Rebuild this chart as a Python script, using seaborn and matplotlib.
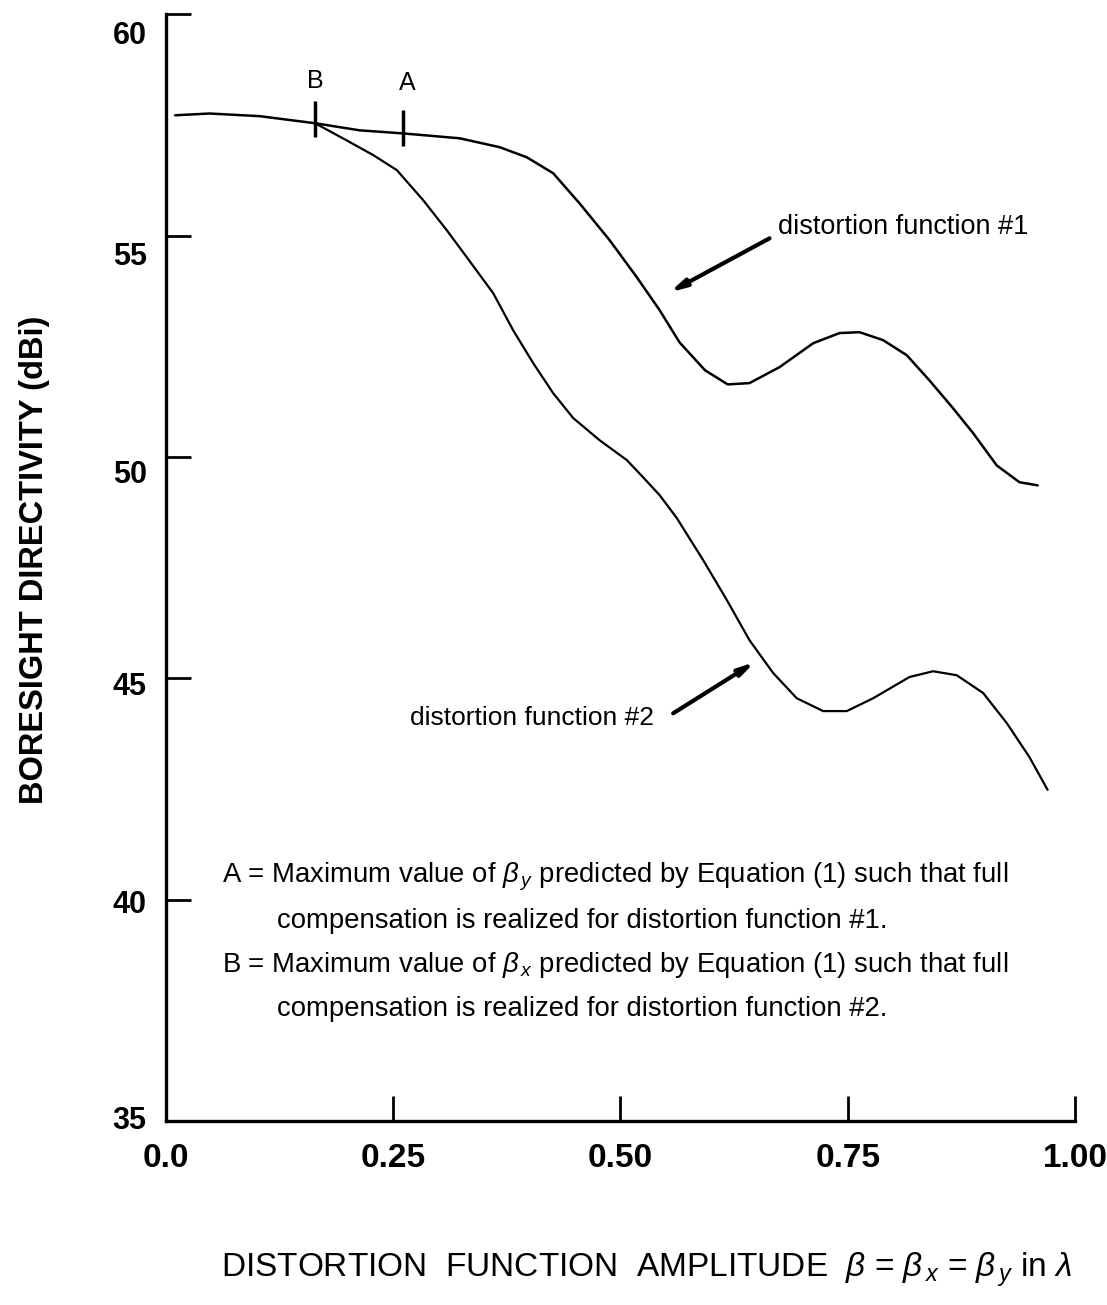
import matplotlib
matplotlib.use("Agg")
import matplotlib.pyplot as plt
import matplotlib.transforms as mtransforms
import seaborn as sns
import pandas as pd

# curve values (beta in wavelengths, directivity in dBi)
beta_1 = [0.010, 0.048, 0.103, 0.164, 0.213, 0.261, 0.323, 0.367, 0.397, 0.426,
          0.455, 0.488, 0.518, 0.543, 0.565, 0.593, 0.618, 0.642, 0.675, 0.712,
          0.741, 0.763, 0.789, 0.815, 0.840, 0.866, 0.888, 0.914, 0.939, 0.959]
dir_1 = [57.72, 57.76, 57.70, 57.54, 57.38, 57.31, 57.20, 57.00, 56.77, 56.41,
         55.73, 54.90, 54.06, 53.32, 52.59, 51.96, 51.64, 51.67, 52.03, 52.57,
         52.80, 52.82, 52.64, 52.30, 51.73, 51.10, 50.54, 49.81, 49.43, 49.36]

beta_2 = [0.164, 0.199, 0.228, 0.254, 0.283, 0.309, 0.331, 0.360, 0.382, 0.404,
          0.426, 0.448, 0.477, 0.507, 0.525, 0.543, 0.562, 0.591, 0.617, 0.642,
          0.668, 0.694, 0.723, 0.749, 0.778, 0.818, 0.844, 0.870, 0.899, 0.925,
          0.950, 0.970]
dir_2 = [57.54, 57.15, 56.82, 56.48, 55.80, 55.12, 54.51, 53.70, 52.86, 52.12,
         51.44, 50.88, 50.38, 49.93, 49.54, 49.14, 48.62, 47.67, 46.77, 45.86,
         45.12, 44.55, 44.26, 44.26, 44.55, 45.03, 45.16, 45.07, 44.67, 43.99,
         43.22, 42.48]

# A / B markers
mark_names = ["B", "A"]
mark_beta = [0.164, 0.261]
mark_dir = [57.63, 57.43]
name_beta = [0.164, 0.265]
name_dir = [58.50, 58.44]

x_ticks = [0.0, 0.25, 0.50, 0.75, 1.00]
x_ticklabels = ["0.0", "0.25", "0.50", "0.75", "1.00"]
y_ticks = [35, 40, 45, 50, 55, 60]

sns.set_style("ticks")
plt.rcParams["font.family"] = ["Liberation Sans", "DejaVu Sans"]
plt.rcParams["mathtext.fontset"] = "custom"
plt.rcParams["mathtext.rm"] = "Liberation Sans"
plt.rcParams["mathtext.it"] = "Liberation Sans:italic"
for key in ["text.color", "axes.labelcolor", "xtick.color", "ytick.color", "axes.edgecolor"]:
    plt.rcParams[key] = "black"

fig = plt.figure(figsize=(11.07, 13.05), dpi=100)
ax = fig.add_axes([0.150, 0.141, 0.821, 0.848])

df1 = pd.DataFrame({"beta": beta_1, "D": dir_1})
df2 = pd.DataFrame({"beta": beta_2, "D": dir_2})
sns.lineplot(data=df1, x="beta", y="D", color="black", lw=1.8, estimator=None, sort=False, ax=ax)
sns.lineplot(data=df2, x="beta", y="D", color="black", lw=1.6, estimator=None, sort=False, ax=ax)

ax.plot(mark_beta, mark_dir, linestyle="none", marker="|", markersize=26,
        markeredgewidth=2.5, color="black")
for name, bx, by in zip(mark_names, name_beta, name_dir):
    ax.text(bx, by, name, ha="center", va="center", fontsize=18)

ax.set_xlim(0, 1.0)
ax.set_ylim(35, 60)
ax.set_xticks(x_ticks)
ax.set_xticklabels(x_ticklabels)
ax.set_yticks(y_ticks)
ax.tick_params(axis="both", direction="in", length=18, width=2, color="black")
ax.tick_params(axis="x", labelsize=24, pad=16)
ax.tick_params(axis="y", labelsize=22, pad=14)
for lab in ax.get_xticklabels() + ax.get_yticklabels():
    lab.set_fontweight("bold")
# the scanned y labels drift below their ticks towards the top
drop_px = [-3, 2, 5, 14, 18, 18]
for lab, d in zip(ax.get_yticklabels(), drop_px):
    shift = mtransforms.ScaledTranslation(0, -d / 100, fig.dpi_scale_trans)
    lab.set_transform(lab.get_transform() + shift)
sns.despine(ax=ax)
for side in ["left", "bottom"]:
    ax.spines[side].set_linewidth(2.4)
    ax.spines[side].set_color("black")
ax.set_xlabel("")
ax.set_ylabel("")
for art in ax.lines + ax.texts:
    art.set_clip_on(False)

# curve labels with arrows
ax.annotate("", xy=(0.554, 53.72), xytext=(0.664, 54.94),
            arrowprops=dict(arrowstyle="-|>,head_length=0.9,head_width=0.22",
                            lw=3, color="black", shrinkA=0, shrinkB=0))
ax.text(0.673, 55.2, "distortion function #1", ha="left", va="center", fontsize=19.5)
ax.annotate("", xy=(0.648, 45.37), xytext=(0.558, 44.21),
            arrowprops=dict(arrowstyle="-|>,head_length=0.9,head_width=0.22",
                            lw=3, color="black", shrinkA=0, shrinkB=0))
ax.text(0.268, 44.1, "distortion function #2", ha="left", va="center", fontsize=19)

note_size = 19.8
ax.text(0.0616, 40.51, r"A = Maximum value of $\beta_{\,y}$ predicted by Equation (1) such that full",
        ha="left", va="center", fontsize=note_size)
ax.text(0.122, 39.52, "compensation is realized for distortion function #1.",
        ha="left", va="center", fontsize=note_size)
ax.text(0.0616, 38.52, r"B = Maximum value of $\beta_{\,x}$ predicted by Equation (1) such that full",
        ha="left", va="center", fontsize=note_size)
ax.text(0.122, 37.53, "compensation is realized for distortion function #2.",
        ha="left", va="center", fontsize=note_size)

fig.text(35 / 1107, 0.571, "BORESIGHT DIRECTIVITY (dBi)", rotation=90,
         ha="center", va="center", fontsize=23.5, fontweight="bold")
fig.text(646 / 1107, 0.0268,
         r"DISTORTION  FUNCTION  AMPLITUDE  $\beta$ = $\beta_{\,x}$ = $\beta_{\,y}$ in $\lambda$",
         ha="center", va="center", fontsize=24)

fig.savefig("out.png", dpi=100, facecolor="white")
